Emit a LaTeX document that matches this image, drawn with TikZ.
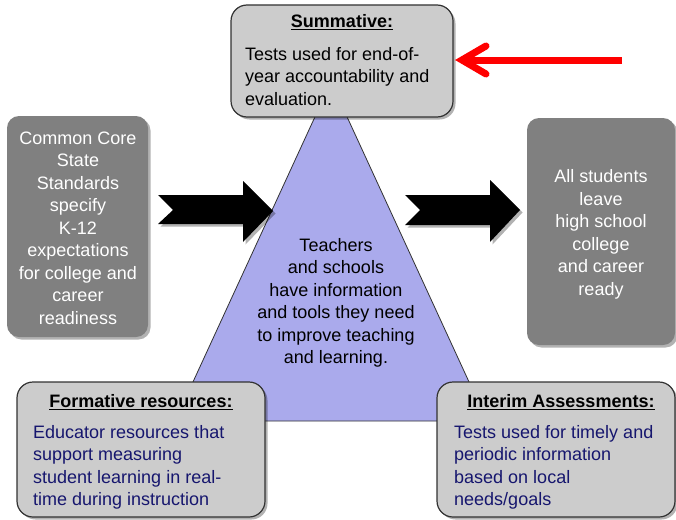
\documentclass[tikz,border=0pt]{standalone}
\usepackage{fontspec}
\setmainfont{Liberation Sans}
\usetikzlibrary{shadows}
\definecolor{boxgray}{RGB}{204,204,204}
\definecolor{darkgray}{RGB}{128,128,128}
\definecolor{edgegray}{RGB}{50,50,50}
\definecolor{lavender}{RGB}{170,170,236}
\definecolor{navy}{RGB}{22,22,110}
\tikzset{
  soft shadow/.style={drop shadow={fill=black,opacity=0.3,shadow xshift=2.5pt,shadow yshift=-2.5pt}},
  darkbox/.style={rectangle,rounded corners=12pt,fill=darkgray,soft shadow},
  boxlabel/.style={text=white,align=center,inner sep=0pt,font=\fontsize{18}{22.5}\selectfont},
  lightbox/.style={rectangle,rounded corners=16pt,fill=boxgray,draw=edgegray,
    line width=1.2pt,soft shadow},
  titletext/.style={inner sep=0pt,font=\fontsize{18}{22.5}\selectfont\bfseries},
  bodytext/.style={inner sep=0pt,anchor=west,align=left,font=\fontsize{18}{22.5}\selectfont},
  blockarrow/.style={fill=black,soft shadow},
  redline/.style={draw=red,line width=7pt},
}
\begin{document}
\begin{tikzpicture}[x=1pt,y=-1pt]
\useasboundingbox (0,0) rectangle (676,519);

% central triangle
\filldraw[fill=lavender,draw=edgegray,line width=0.8pt]
  (331,82) -- (175,421) -- (487,421) -- cycle;
\node[align=center,inner sep=0pt,font=\fontsize{18}{22.5}\selectfont] (tri) at (336,303)
  {Teachers\\and schools\\have information\\and tools they need\\to improve teaching\\and learning.};

% side boxes
\node[darkbox,minimum width=141pt,minimum height=221pt] (ccss) at (77.5,226.5) {};
\node[boxlabel] (ccsst) at (78,228)
  {Common Core\\State\\Standards\\specify\\K-12\\expectations\\for college and\\career\\readiness};
\node[darkbox,minimum width=148pt,minimum height=227pt] (ready) at (601,231.5) {};
\node[boxlabel] (readyt) at (601,234.5)
  {All students\\leave\\high school\\college\\and career\\ready};

% block arrows
\coordinate (a1tail) at (158,210);
\coordinate (a2tail) at (405,210);
\path[blockarrow] (a1tail) +(0,-15) -- +(85,-15) -- +(85,-29) -- +(115,1) -- +(85,32)
  -- +(85,14) -- +(0,14) -- +(15,0) -- cycle;
\path[blockarrow] (a2tail) +(0,-15) -- +(85,-15) -- +(85,-30) -- +(115,0) -- +(85,32)
  -- +(85,15) -- +(0,15) -- +(15,0) -- cycle;

% summative box
\node[lightbox,minimum width=222pt,minimum height=112pt] (summ) at (342,61) {};
\node[titletext] (summt) at (342,22) {\underline{Summative:}};
\node[bodytext] (summb) at (245,76.5) {Tests used for end-of-\\year accountability and\\evaluation.};

% formative box
\node[lightbox,minimum width=248pt,minimum height=135pt] (form) at (141,449.5) {};
\node[titletext] (formt) at (141,402) {\underline{Formative resources:}};
\node[bodytext,text=navy] (formb) at (33,467.5)
  {Educator resources that\\support measuring\\student learning in real-\\time during instruction};

% interim box
\node[lightbox,minimum width=238pt,minimum height=135pt] (inter) at (556,449.5) {};
\node[titletext] (intert) at (561,402) {\underline{Interim Assessments:}};
\node[bodytext,text=navy] (interb) at (454,467.5)
  {Tests used for timely and\\periodic information\\based on local\\needs/goals};

% red pointer
\coordinate (redtail) at (622,60);
\coordinate (redtip) at (462,60);
\draw[redline,line cap=butt] (redtail) -- (redtip);
\draw[redline,line cap=round,line join=miter] (486,46) -- (redtip) -- (486,74);
\end{tikzpicture}
\end{document}
